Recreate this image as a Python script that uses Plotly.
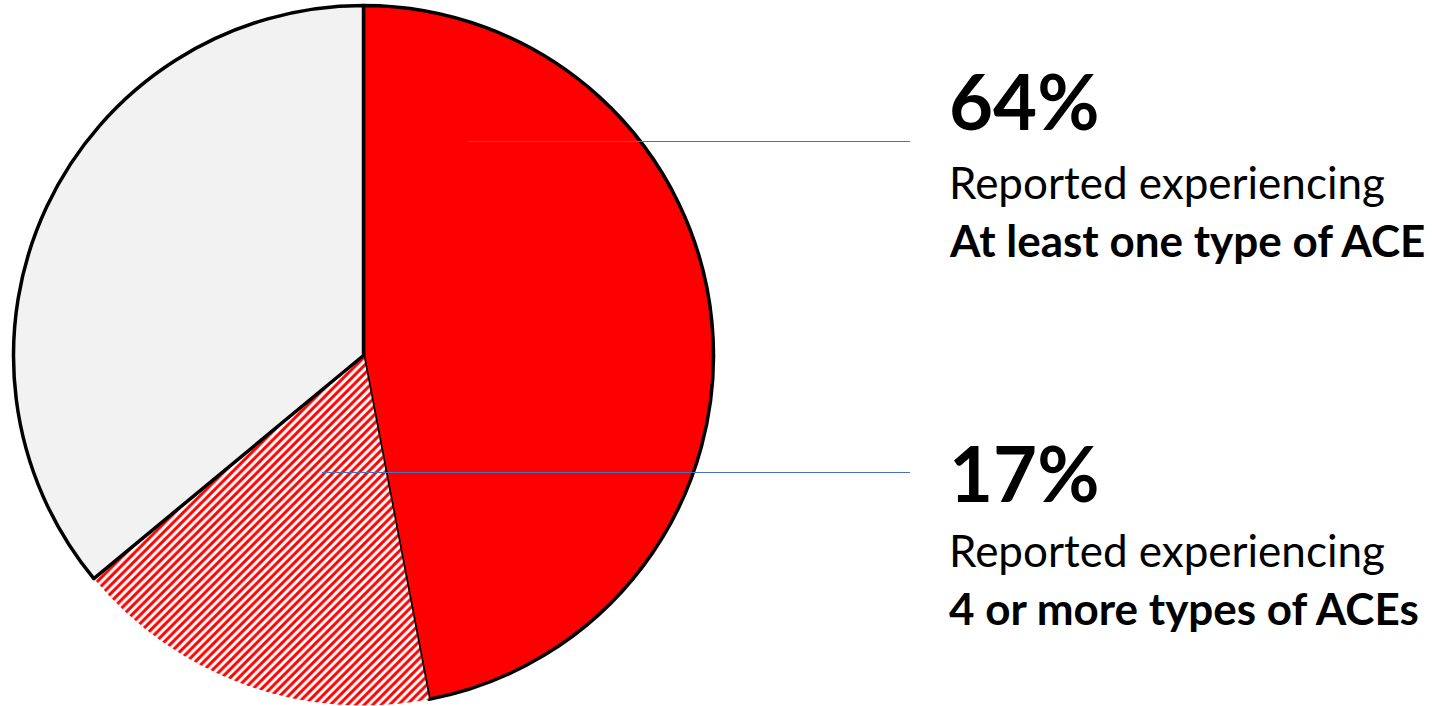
import plotly.graph_objects as go

labels = ["At least one type of ACE (1-3 types)", "4 or more types of ACEs", "No ACEs"]
values = [47, 17, 36]
colors = ["#FF0000", "#FFFFFF", "#F2F2F2"]
patterns = ["", "/", ""]
line_widths = [3.5, 0, 3.5]

big_labels = ["64%", "17%"]
sub_labels = ["Reported experiencing", "Reported experiencing"]
bold_labels = ["At least one type of ACE", "4 or more types of ACEs"]

W, H = 1432, 706
FONT = "Lato"

fig = go.Figure(go.Pie(
    labels=labels, values=values, sort=False, direction="clockwise", rotation=0,
    marker=dict(colors=colors, line=dict(color="#000000", width=line_widths),
                pattern=dict(shape=patterns, fgcolor="#FF0000", size=6, solidity=0.5)),
    textinfo="none", hoverinfo="label+percent", showlegend=False,
    domain=dict(x=[13.5 / W, 713.5 / W], y=[0.5 / H, 700.5 / H]),
))

def py(p):
    return 1 - p / H

ys = [(100, 182, 240, 141.5, 468), (472, 550, 608, 472.5, 322)]
ann = []
shapes = []
for i, (yb, ys1, ys2, yl, xl) in enumerate(ys):
    ann.append(dict(x=947 / W, y=py(yb), xref="paper", yref="paper", xanchor="left", yanchor="middle",
                    text="<b>%s</b>" % big_labels[i], showarrow=False,
                    font=dict(family=FONT, size=76, color="#000000")))
    ann.append(dict(x=947 / W, y=py(ys1), xref="paper", yref="paper", xanchor="left", yanchor="middle",
                    text=sub_labels[i], showarrow=False,
                    font=dict(family=FONT, size=44, color="#000000")))
    ann.append(dict(x=947 / W, y=py(ys2), xref="paper", yref="paper", xanchor="left", yanchor="middle",
                    text="<b>%s</b>" % bold_labels[i], showarrow=False,
                    font=dict(family=FONT, size=44, color="#000000")))
    shapes.append(dict(type="line", xref="paper", yref="paper", x0=xl / W, x1=910 / W,
                       y0=py(yl), y1=py(yl), line=dict(color="#4472C4", width=1)))

fig.update_layout(width=W, height=H, margin=dict(l=0, r=0, t=0, b=0),
                  paper_bgcolor="#FFFFFF", plot_bgcolor="#FFFFFF",
                  annotations=ann, shapes=shapes)
fig.write_html("out.html")
